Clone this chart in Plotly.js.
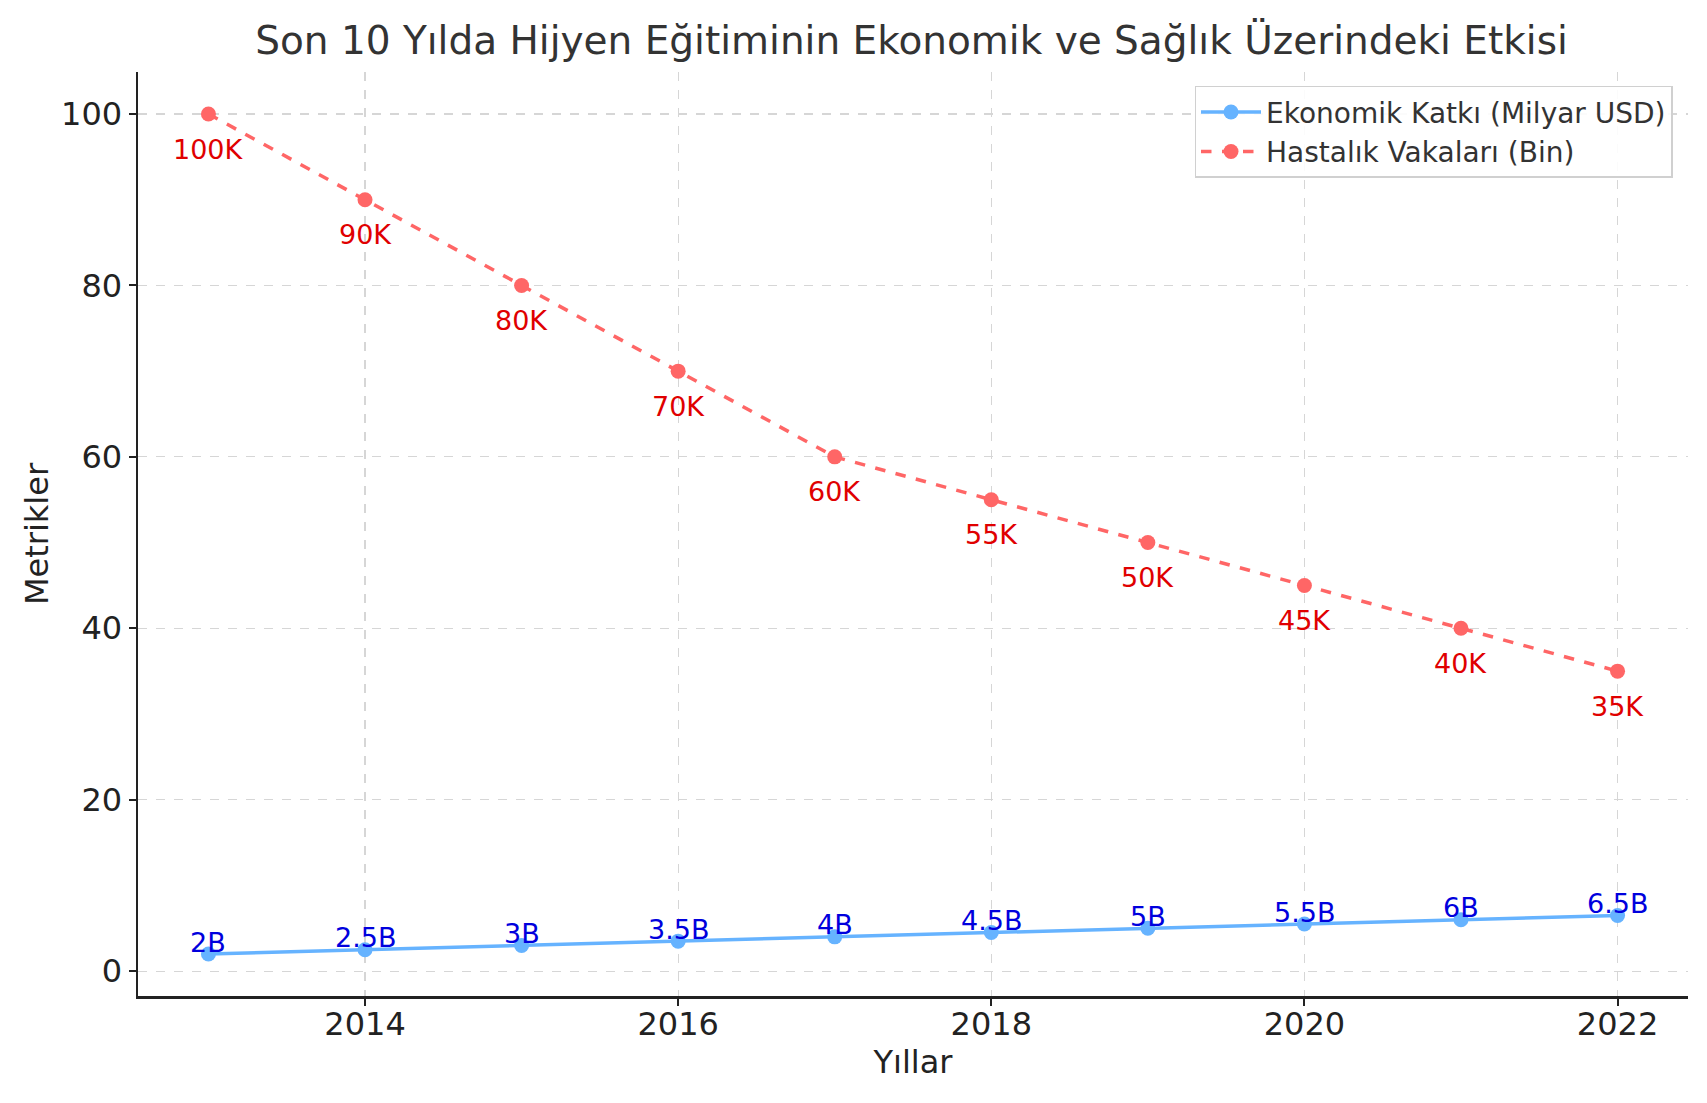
<!DOCTYPE html>
<html>
<head>
<meta charset="utf-8">
<script src="https://cdn.plot.ly/plotly-3.0.1.min.js"></script>
<style>
  html, body { margin: 0; padding: 0; background: #fff; }
  #chart { width: 1707px; height: 1103px; }
</style>
</head>
<body>
<div id="chart"></div>
<script>
// years on the x axis
let years = [2013, 2014, 2015, 2016, 2017, 2018, 2019, 2020, 2021, 2022];
// economic contribution (billion USD)
let economy = [2, 2.5, 3, 3.5, 4, 4.5, 5, 5.5, 6, 6.5];
let economyLabels = ['2B', '2.5B', '3B', '3.5B', '4B', '4.5B', '5B', '5.5B', '6B', '6.5B'];
// disease cases (thousand)
let cases = [100, 90, 80, 70, 60, 55, 50, 45, 40, 35];
let casesLabels = ['100K', '90K', '80K', '70K', '60K', '55K', '50K', '45K', '40K', '35K'];

let font = 'DejaVu Sans, sans-serif';

let traces = [
    {
        x: years,
        y: economy,
        name: 'Ekonomik Katkı (Milyar USD)',
        type: 'scatter',
        mode: 'lines+markers',
        line: { color: '#66b3ff', width: 3.5 },
        marker: { color: '#66b3ff', size: 15 },
    },
    {
        x: years,
        y: cases,
        name: 'Hastalık Vakaları (Bin)',
        type: 'scatter',
        mode: 'lines+markers',
        line: { color: '#ff6666', width: 3.5, dash: 'dash' },
        marker: { color: '#ff6666', size: 15 },
    },
];

//point labels: blue ones above, red ones below
let annotations = [];
years.forEach(function(yr, i){
    annotations.push({
        x: yr, y: economy[i], xref: 'x', yref: 'y',
        text: economyLabels[i], showarrow: false, yshift: 12,
        font: { family: font, size: 27, color: '#0000dd' },
    });
    annotations.push({
        x: yr, y: cases[i], xref: 'x', yref: 'y',
        text: casesLabels[i], showarrow: false, yshift: -35,
        font: { family: font, size: 27, color: '#e00000' },
    });
});

let axisStyle = {
    showline: true,
    linecolor: '#222',
    linewidth: 2.5,
    ticks: 'outside',
    ticklen: 7,
    tickwidth: 2,
    tickcolor: '#222',
    showgrid: true,
    gridcolor: '#d6d6d6',
    griddash: 'dash',
    gridwidth: 1.2,
    zeroline: false,
    mirror: false,
    tickfont: { family: font, size: 32, color: '#222' },
};

let layout = {
    width: 1707,
    height: 1103,
    margin: { l: 138, r: 19, t: 72, b: 107 },
    paper_bgcolor: '#fff',
    plot_bgcolor: '#fff',
    font: { family: font, color: '#222' },
    title: {
        text: 'Son 10 Yılda Hijyen Eğitiminin Ekonomik ve Sağlık Üzerindeki Etkisi',
        font: { family: font, size: 39, color: '#333' },
        x: 0.534, xanchor: 'center', y: 0.963, yanchor: 'middle',
    },
    xaxis: Object.assign({}, axisStyle, {
        range: [2012.55, 2022.45],
        tickvals: [2014, 2016, 2018, 2020, 2022],
        ticklabelstandoff: -9,
        title: { text: 'Yıllar', font: { family: font, size: 32, color: '#222' }, standoff: 8 },
    }),
    yaxis: Object.assign({}, axisStyle, {
        range: [-2.9, 104.9],
        tickvals: [0, 20, 40, 60, 80, 100],
        title: { text: 'Metrikler', font: { family: font, size: 32, color: '#222' }, standoff: 3 },
    }),
    legend: {
        x: 0.99, y: 0.985, xanchor: 'right', yanchor: 'top',
        bgcolor: 'rgba(255,255,255,0.9)',
        bordercolor: '#d0d0d0',
        borderwidth: 1.5,
        font: { family: font, size: 28, color: '#333' },
        itemwidth: 60,
        tracegroupgap: 4,
    },
    annotations: annotations,
    showlegend: true,
};

Plotly.newPlot('chart', traces, layout, { displayModeBar: false, staticPlot: true });
</script>
</body>
</html>
